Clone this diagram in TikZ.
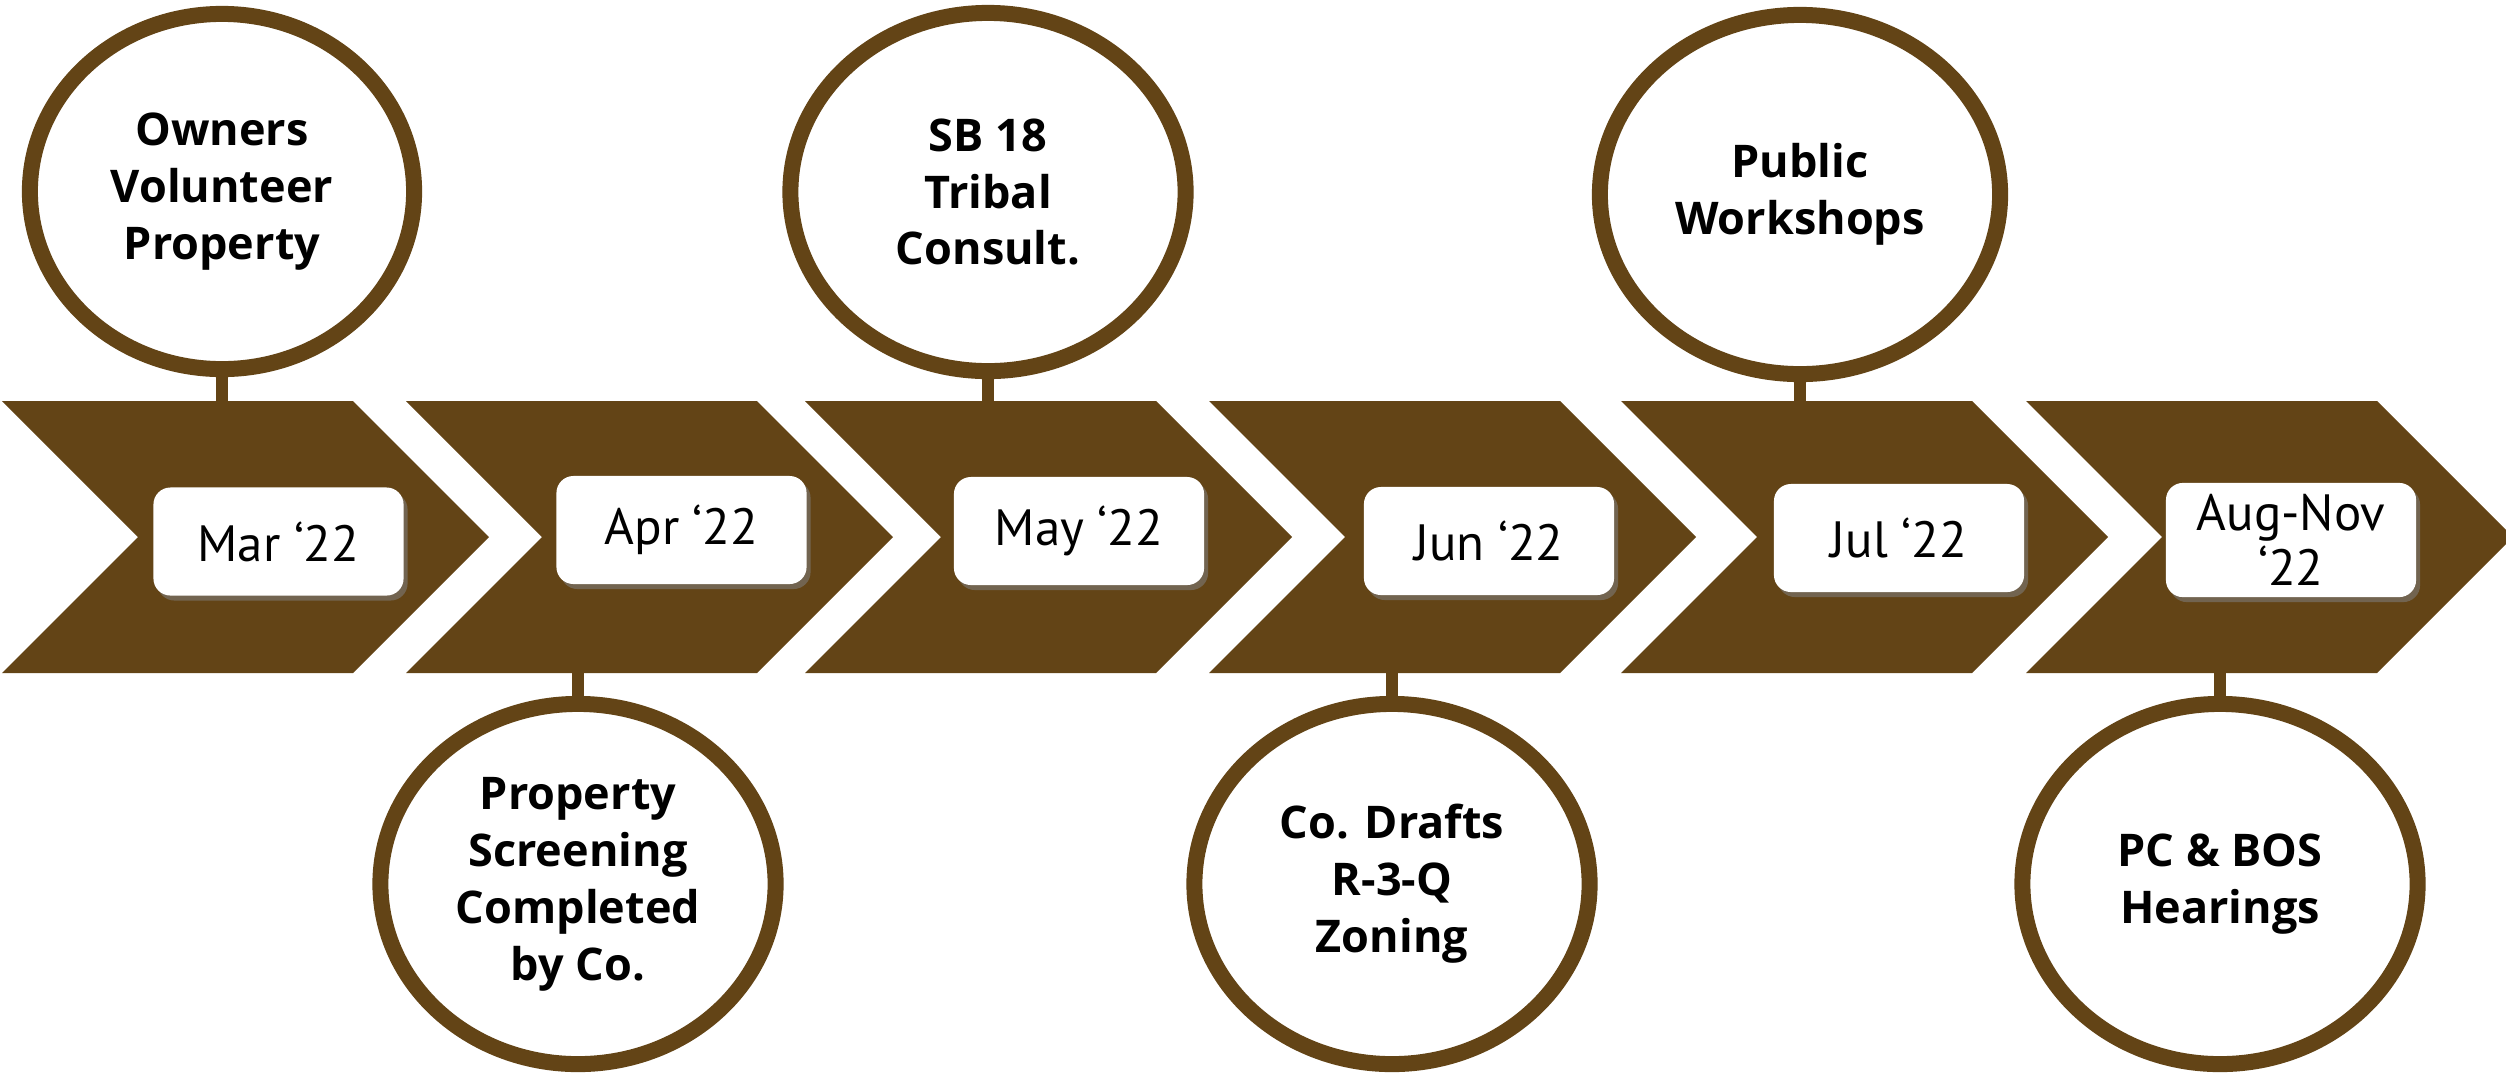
\documentclass[tikz,border=0pt]{standalone}
\usepackage{fontspec}
\setmainfont{Open Sans}
\newfontfamily\datefont{PT Sans}
\usepackage{tikz}
\usetikzlibrary{shapes.geometric, shadows}
\definecolor{bark}{RGB}{99,68,22}
\tikzstyle{chevron} = [fill=bark]
\tikzstyle{event} = [ellipse, draw=bark, line width=0.16cm, fill=white, inner sep=0pt, align=center, font=\bfseries\fontsize{12.8}{16.2}\selectfont]
\tikzstyle{datebox} = [rectangle, rounded corners=0.17cm, fill=white, minimum width=2.5cm, minimum height=1.08cm, align=center, font=\datefont\fontsize{14.5}{17}\selectfont, drop shadow={shadow xshift=0.04cm, shadow yshift=-0.05cm, opacity=0.55}]
\tikzstyle{stem} = [draw=bark, line width=0.12cm]

\begin{document}
\begin{tikzpicture}[x=0.01cm, y=-0.01cm]

\useasboundingbox (0,0) rectangle (2506,1075);

\fill [chevron] (2,401) -- (353,401) -- (489,537) -- (353,673) -- (2,673) -- (138,537) -- cycle;
\fill [chevron] (406,401) -- (757,401) -- (893,537) -- (757,673) -- (406,673) -- (542,537) -- cycle;
\fill [chevron] (805,401) -- (1156,401) -- (1292,537) -- (1156,673) -- (805,673) -- (941,537) -- cycle;
\fill [chevron] (1209,401) -- (1560,401) -- (1696,537) -- (1560,673) -- (1209,673) -- (1345,537) -- cycle;
\fill [chevron] (1621,401) -- (1972,401) -- (2108,537) -- (1972,673) -- (1621,673) -- (1757,537) -- cycle;
\fill [chevron] (2026,401) -- (2377,401) -- (2513,537) -- (2377,673) -- (2026,673) -- (2162,537) -- cycle;

\coordinate (c1) at (222,401);
\coordinate (c2) at (578,673);
\coordinate (c3) at (988,401);
\coordinate (c4) at (1392,673);
\coordinate (c5) at (1800,401);
\coordinate (c6) at (2220,673);

\node (owners) [event, minimum width=3.84cm, minimum height=3.55cm] at (222,191.5) {Owners\\Volunteer\\Property};
\node (screening) [event, minimum width=3.95cm, minimum height=3.6cm] at (578,884) {Property\\Screening\\Completed\\by Co.};
\node (tribal) [event, minimum width=3.95cm, minimum height=3.58cm] at (988,192) {SB 18\\Tribal\\Consult.};
\node (drafts) [event, minimum width=3.95cm, minimum height=3.6cm] at (1392,884) {Co. Drafts\\R-3-Q\\Zoning};
\node (workshops) [event, minimum width=4cm, minimum height=3.59cm] at (1800,194.5) {Public\\Workshops};
\node (hearings) [event, minimum width=3.95cm, minimum height=3.6cm] at (2220,884) {PC \& BOS\\Hearings};

\draw [stem] (owners) -- (c1);
\draw [stem] (screening) -- (c2);
\draw [stem] (tribal) -- (c3);
\draw [stem] (drafts) -- (c4);
\draw [stem] (workshops) -- (c5);
\draw [stem] (hearings) -- (c6);

\node (mar) [datebox] at (278.5,541.5) {Mar ‘22};
\node (apr) [datebox] at (681.5,530) {Apr ‘22};
\node (may) [datebox] at (1079,531) {May ‘22};
\node (jun) [datebox] at (1489,541) {Jun ‘22};
\node (jul) [datebox] at (1899,538) {Jul ‘22};
\node (augnov) [datebox, font=\datefont\fontsize{14.5}{15.5}\selectfont] at (2291,540) {Aug-Nov\\‘22};

\end{tikzpicture}
\end{document}
